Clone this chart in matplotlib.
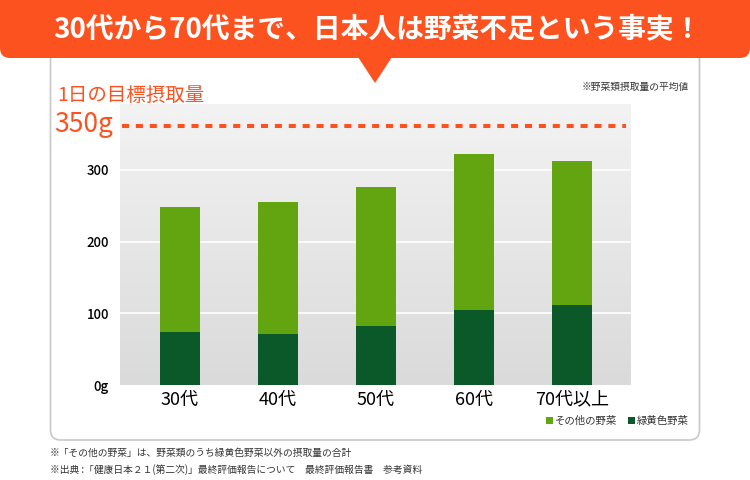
import matplotlib
matplotlib.use("Agg")
import matplotlib.pyplot as plt
import numpy as np
from matplotlib.patches import FancyBboxPatch, Polygon, Rectangle
from matplotlib.lines import Line2D
from matplotlib.colors import LinearSegmentedColormap

plt.rcParams['font.family'] = ['Noto Sans CJK JP', 'DejaVu Sans']

categories = ['30代', '40代', '50代', '60代', '70代以上']
green_yellow = [74, 71, 82, 105, 112]        # 緑黄色野菜
other_veg = [174, 184, 194, 217, 200]        # その他の野菜
y_ticks = [0, 100, 200, 300]
y_tick_labels = ['0g', '100', '200', '300']
target = 350

title = '30代から70代まで、日本人は野菜不足という事実！'
c_orange = '#fc5220'
c_dark = '#0b5829'
c_light = '#63a411'

W, H = 750, 480
fig = plt.figure(figsize=(W / 100, H / 100), dpi=100)
fig.patch.set_facecolor('white')

def fx(px):
    return px / W

def fy(py):
    return 1 - py / H

# overlay axis for decorations (pixel coords)
deco = fig.add_axes([0, 0, 1, 1])
deco.set_xlim(0, W)
deco.set_ylim(H, 0)
deco.axis('off')

# panel
deco.add_patch(FancyBboxPatch((50.5, 30), 649, 410, boxstyle='round,pad=0,rounding_size=10',
                              facecolor='white', edgecolor='#c8c8c8', linewidth=1.2, zorder=1))
# header
deco.add_patch(FancyBboxPatch((0, 0), 750, 58, boxstyle='round,pad=0,rounding_size=10',
                              facecolor=c_orange, edgecolor='none', zorder=2))
deco.add_patch(Rectangle((0, -20), 750, 40, facecolor=c_orange, edgecolor='none', zorder=2))
deco.add_patch(Polygon([[358, 57], [392, 57], [375, 83]], closed=True,
                       facecolor=c_orange, edgecolor='none', zorder=2))
deco.text(377, 29, title, color='white', fontsize=20, fontweight='bold',
          ha='center', va='center', zorder=3)

deco.text(689, 87, '※野菜類摂取量の平均値', fontsize=7, color='#333333', ha='right', va='center')
deco.text(57, 96, '1日の目標摂取量', fontsize=14, color=c_orange, ha='left', va='center')
deco.text(54, 124, '350g', fontsize=19, color=c_orange, ha='left', va='center')

deco.text(50, 453, '※「その他の野菜」は、野菜類のうち緑黄色野菜以外の摂取量の合計',
          fontsize=7, color='#333333', ha='left', va='center')
deco.text(50, 470, '※出典 :「健康日本２１(第二次)」最終評価報告について　最終評価報告書　参考資料',
          fontsize=7, color='#333333', ha='left', va='center')

# legend
deco.add_patch(Rectangle((546, 417), 7, 7, facecolor=c_light, edgecolor='none'))
deco.text(555, 421, 'その他の野菜', fontsize=7.5, color='#333333', ha='left', va='center')
deco.add_patch(Rectangle((628, 417), 7, 7, facecolor=c_dark, edgecolor='none'))
deco.text(637, 421, '緑黄色野菜', fontsize=7.5, color='#333333', ha='left', va='center')

# main plot
ax_left, ax_right, ax_top, ax_bottom = 120, 631, 104, 385
ax = fig.add_axes([fx(ax_left), fy(ax_bottom), fx(ax_right - ax_left), fy(ax_top) - fy(ax_bottom)])
ymax = (ax_bottom - ax_top) / 0.717
ax.set_ylim(0, ymax)
x = np.arange(len(categories))
ax.set_xlim(-0.61, 4.6)

# gradient background
grad = np.linspace(0, 1, 256).reshape(-1, 1)
cmap = LinearSegmentedColormap.from_list('bg', ['#dadada', '#f3f3f3'])
ax.imshow(grad, aspect='auto', cmap=cmap, origin='lower',
          extent=[-0.61, 4.6, 0, ymax], zorder=0)

for t in y_ticks[1:]:
    ax.axhline(t, color='white', linewidth=1.2, zorder=1)

w = 0.41
ax.bar(x, green_yellow, width=w, color=c_dark, zorder=2)
ax.bar(x, other_veg, width=w, bottom=green_yellow, color=c_light, zorder=2)

for s in ax.spines.values():
    s.set_visible(False)
ax.set_yticks(y_ticks)
ax.set_yticklabels(y_tick_labels, fontsize=9.5, fontweight='medium')
ax.set_xticks(x)
ax.set_xticklabels(categories, fontsize=13)
ax.tick_params(length=0, pad=8)
ax.tick_params(axis='x', pad=4)

# target dashed line (drawn on top of everything)
fig.add_artist(Line2D([fx(122), fx(626)], [fy(126), fy(126)], color=c_orange, linewidth=2.9,
                      linestyle=(0, (1.75, 1.7)), solid_capstyle='butt', dash_capstyle='butt',
                      zorder=10))

fig.savefig('out.png', dpi=100)
